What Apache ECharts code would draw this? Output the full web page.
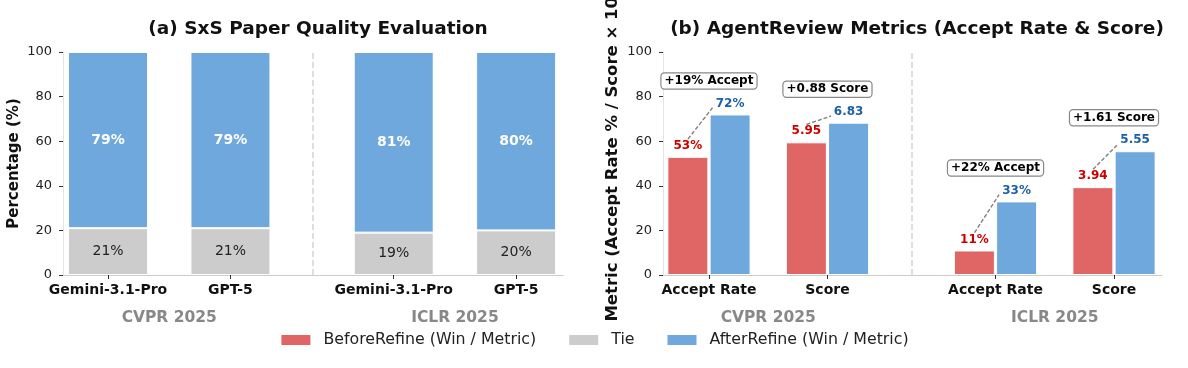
<!DOCTYPE html>
<html>
<head>
<meta charset="utf-8">
<script src="https://cdn.jsdelivr.net/npm/echarts@6.0.0/dist/echarts.min.js"></script>
<style>
html,body{margin:0;padding:0;background:#fff;}
#chart{width:1188px;height:368px;}
</style>
</head>
<body>
<div id="chart"></div>
<script>
// ---- data ----
const leftCategories = ['Gemini-3.1-Pro', 'GPT-5', 'Gemini-3.1-Pro', 'GPT-5'];
const leftGroups = ['CVPR 2025', 'ICLR 2025'];
const tieWin = [21, 21, 19, 20];
const afterWin = [79, 79, 81, 80];

const rightCategories = ['Accept Rate', 'Score', 'Accept Rate', 'Score'];
const rightGroups = ['CVPR 2025', 'ICLR 2025'];
const beforeMetric = [53, 59.5, 11, 39.4];
const afterMetric = [72, 68.3, 33, 55.5];
const beforeLabels = ['53%', '5.95', '11%', '3.94'];
const afterLabels = ['72%', '6.83', '33%', '5.55'];
const deltaLabels = ['+19% Accept', '+0.88 Score', '+22% Accept', '+1.61 Score'];

const seriesNames = ['BeforeRefine (Win / Metric)', 'Tie', 'AfterRefine (Win / Metric)'];

// ---- layout (category slots on the x axis) ----
const leftPos = [0, 1, 2.334, 3.334];
const rightPos = [0, 1, 2.418, 3.418];
const FONT = 'DejaVu Sans';
const RED = '#e06666';
const GRAY = '#cccccc';
const BLUE = '#6fa8dc';

function groupCenters(pos) { return [(pos[0] + pos[1]) / 2, (pos[2] + pos[3]) / 2]; }
function nearestIdx(pos, v) {
  let b = 0;
  pos.forEach((p, i) => { if (Math.abs(p - v) < Math.abs(pos[b] - v)) b = i; });
  return b;
}

function catAxis(gridIndex, pos, min, max, names) {
  return {
    type: 'value', gridIndex, min, max, position: 'bottom',
    splitLine: { show: false },
    axisLine: { show: true, onZero: false, lineStyle: { color: '#cccccc', width: 1 } },
    axisTick: { show: true, customValues: pos, length: 4, lineStyle: { color: '#333' } },
    axisLabel: {
      customValues: pos, margin: 8,
      fontFamily: FONT, fontSize: 14, fontWeight: 'bold', color: '#111',
      formatter: v => names[nearestIdx(pos, v)]
    }
  };
}
function groupAxis(gridIndex, pos, min, max, names) {
  const gc = groupCenters(pos);
  return {
    type: 'value', gridIndex, min, max, position: 'bottom', offset: 27,
    splitLine: { show: false },
    axisLine: { show: false, onZero: false }, axisTick: { show: false },
    axisLabel: {
      customValues: gc, margin: 8,
      fontFamily: FONT, fontSize: 15.5, fontWeight: 'bold', color: '#888',
      formatter: v => names[nearestIdx(gc, v)]
    }
  };
}
function yAxis(gridIndex, name, gap, size, pad) {
  return {
    type: 'value', gridIndex, min: 0, max: 100, interval: 20,
    name, nameLocation: 'middle', nameGap: gap, nameRotate: 90,
    nameTextStyle: { fontFamily: FONT, fontSize: size, fontWeight: 'bold', color: '#111', padding: pad },
    splitLine: { show: false },
    axisLine: { show: true, onZero: false, lineStyle: { color: '#e4e4e4' } },
    axisTick: { show: true, length: 4, lineStyle: { color: '#333' } },
    axisLabel: { margin: 11, fontFamily: FONT, fontSize: 13, color: '#222' }
  };
}

const lMin = -0.368, lMax = 3.717;
const rMin = -0.388, rMax = 3.823;
const lDiv = (leftPos[1] + leftPos[2]) / 2;
const rDiv = (rightPos[1] + rightPos[2]) / 2;

const dividerStyle = { color: '#d4d4d4', type: [6, 3], width: 1.5 };

function divider(xAxisIndex, yAxisIndex, x) {
  return {
    name: 'divider' + xAxisIndex, type: 'scatter', xAxisIndex, yAxisIndex, silent: true,
    data: [], symbolSize: 0,
    markLine: {
      silent: true, symbol: 'none', label: { show: false },
      lineStyle: dividerStyle,
      data: [{ xAxis: x }]
    }
  };
}

const option = {
  animation: false,
  backgroundColor: '#fff',
  title: [
    { text: '(a) SxS Paper Quality Evaluation', left: 313, top: 15, textAlign: 'center',
      textStyle: { fontFamily: FONT, fontSize: 18.5, fontWeight: 'bold', color: '#111' } },
    { text: '(b) AgentReview Metrics (Accept Rate & Score)', left: 912, top: 15, textAlign: 'center',
      textStyle: { fontFamily: FONT, fontSize: 18.5, fontWeight: 'bold', color: '#111' } }
  ],
  legend: {
    data: seriesNames, left: 'center', top: 327, icon: 'rect',
    itemWidth: 31, itemHeight: 12, itemGap: 31,
    textStyle: { fontFamily: FONT, fontSize: 15.8, color: '#222', padding: [0, 0, 0, 7] }
  },
  grid: [
    { left: 63, right: 1188 - 563, top: 52, bottom: 368 - 275, outerBoundsMode: 'none', containLabel: false },
    { left: 663, right: 1188 - 1162, top: 52, bottom: 368 - 275, outerBoundsMode: 'none', containLabel: false }
  ],
  xAxis: [
    catAxis(0, leftPos, lMin, lMax, leftCategories),
    groupAxis(0, leftPos, lMin, lMax, leftGroups),
    catAxis(1, rightPos, rMin, rMax, rightCategories),
    groupAxis(1, rightPos, rMin, rMax, rightGroups)
  ],
  yAxis: [
    yAxis(0, 'Percentage (%)', 41, 15, 0),
    yAxis(1, 'Metric (Accept Rate % / Score × 10)', 42, 16.5, [0, 0, 0, 16])
  ],
  series: [
    {
      name: 'Tie', type: 'bar', xAxisIndex: 0, yAxisIndex: 0, stack: 'win',
      barWidth: 80, encode: { x: 1, y: 0 },
      data: tieWin.map((v, i) => [v, leftPos[i]]),
      itemStyle: { color: GRAY, borderColor: '#fff', borderWidth: 1 },
      label: { show: true, position: 'inside', fontFamily: FONT, fontSize: 14, color: '#222',
        formatter: p => p.value[0] + '%' }
    },
    {
      name: 'AfterRefine (Win / Metric)', type: 'bar', xAxisIndex: 0, yAxisIndex: 0, stack: 'win',
      barWidth: 80, encode: { x: 1, y: 0 },
      data: afterWin.map((v, i) => [v, leftPos[i]]),
      itemStyle: { color: BLUE, borderColor: '#fff', borderWidth: 1 },
      label: { show: true, position: 'inside', fontFamily: FONT, fontSize: 14, fontWeight: 'bold', color: '#fff',
        formatter: p => p.value[0] + '%' }
    },
    divider(0, 0, lDiv),
    divider(2, 1, rDiv),
    {
      name: 'BeforeRefine (Win / Metric)', type: 'bar', xAxisIndex: 2, yAxisIndex: 1,
      barWidth: 41, barGap: '3%',
      data: beforeMetric.map((v, i) => [rightPos[i], v]),
      itemStyle: { color: RED, borderColor: '#fff', borderWidth: 1 },
      label: { show: true, position: 'top', distance: 5, fontFamily: FONT, fontSize: 12, fontWeight: 'bold',
        color: '#cc0000', formatter: p => beforeLabels[p.dataIndex] }
    },
    {
      name: 'AfterRefine (Win / Metric)', type: 'bar', xAxisIndex: 2, yAxisIndex: 1,
      barWidth: 41, barGap: '3%',
      data: afterMetric.map((v, i) => [rightPos[i], v]),
      itemStyle: { color: BLUE, borderColor: '#fff', borderWidth: 1 },
      label: { show: true, position: 'top', distance: 5, fontFamily: FONT, fontSize: 12, fontWeight: 'bold',
        color: '#1f5fa6', formatter: p => afterLabels[p.dataIndex] }
    },
    {
      name: 'arrows', type: 'scatter', xAxisIndex: 2, yAxisIndex: 1, silent: true,
      data: [], symbolSize: 0,
      markLine: {
        silent: true, symbol: ['none', 'arrow'], symbolSize: [0, 9], label: { show: false },
        lineStyle: { color: '#808080', type: [4, 2], width: 1.4, curveness: 0.35 },
        data: beforeMetric.map((b, i) => [
          { coord: [rightPos[i] - 0.177, b + 8] },
          { coord: [rightPos[i] + 0.03, afterMetric[i] + 3] }
        ])
      }
    },
    {
      name: 'delta', type: 'scatter', xAxisIndex: 2, yAxisIndex: 1,
      symbol: 'rect', symbolSize: 1, itemStyle: { color: 'rgba(255,255,255,0)', opacity: 1 },
      data: afterMetric.map((a, i) => [rightPos[i], a + 15]),
      label: {
        show: true, position: 'inside', formatter: p => deltaLabels[p.dataIndex],
        fontFamily: FONT, fontSize: 12, fontWeight: 'bold', color: '#000',
        backgroundColor: '#fff', borderColor: '#888', borderWidth: 1.2, borderRadius: 3,
        padding: [2, 3, 1, 3]
      }
    }
  ]
};

const chart = echarts.init(document.getElementById('chart'), null, { renderer: 'canvas' });
chart.setOption(option);
</script>
</body>
</html>
